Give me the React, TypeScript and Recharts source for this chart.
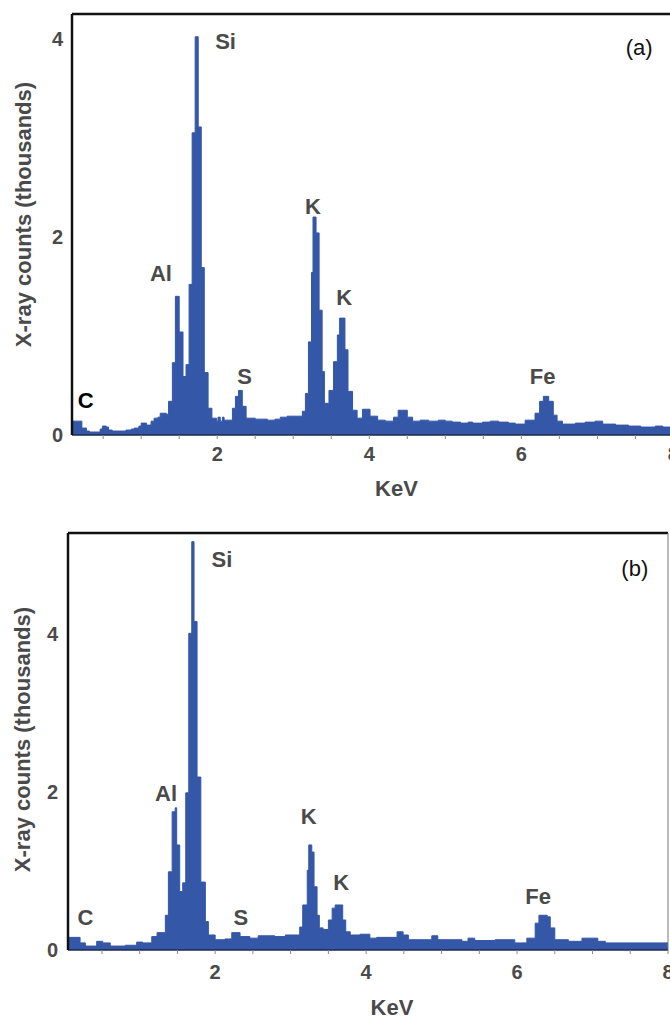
import React from 'react';
import { ComposedChart, Area, XAxis, YAxis, ReferenceDot, ReferenceLine, Label } from 'recharts';

const FONT = '"Liberation Sans", Arial, Helvetica, sans-serif';
const BAR = '#3457a7';
const TEXT = '#4a4a4a';

// Panel (a): step edges (keV) and X-ray counts (thousands)
const energiesA = [
  0.05, 0.22, 0.28, 0.32, 0.46, 0.49, 0.54, 0.57, 0.62, 0.80,
  0.87, 0.91, 0.97, 1.00, 1.07, 1.13, 1.17, 1.22, 1.25, 1.33,
  1.36, 1.41, 1.45, 1.50, 1.55, 1.59, 1.63, 1.67, 1.71, 1.75,
  1.79, 1.83, 1.88, 1.93, 1.99, 2.01, 2.04, 2.07, 2.09, 2.20,
  2.24, 2.28, 2.33, 2.38, 2.50, 2.66, 2.76, 2.83, 2.92, 3.12,
  3.16, 3.20, 3.24, 3.26, 3.30, 3.34, 3.38, 3.41, 3.47, 3.53,
  3.58, 3.61, 3.68, 3.72, 3.78, 3.84, 3.91, 4.01, 4.11, 4.21,
  4.32, 4.38, 4.50, 4.57, 4.67, 4.78, 4.91, 5.00, 5.09, 5.20,
  5.30, 5.36, 5.49, 5.59, 5.70, 5.83, 5.92, 6.05, 6.18, 6.24,
  6.29, 6.36, 6.42, 6.47, 6.54, 6.71, 6.84, 6.97, 7.07, 7.24,
  7.41, 7.57, 7.76, 7.86, 8.20,
];
const countsA = [
  0.14, 0.07, 0.04, 0.03, 0.06, 0.09, 0.08, 0.05, 0.04, 0.05,
  0.06, 0.07, 0.09, 0.12, 0.10, 0.14, 0.17, 0.18, 0.22, 0.21,
  0.34, 0.73, 1.40, 1.04, 0.59, 0.71, 1.52, 3.05, 4.02, 3.11,
  1.69, 0.63, 0.27, 0.17, 0.14, 0.18, 0.14, 0.18, 0.15, 0.27,
  0.39, 0.45, 0.29, 0.17, 0.16, 0.15, 0.16, 0.18, 0.19, 0.24,
  0.42, 0.94, 1.64, 2.20, 2.04, 1.26, 0.64, 0.32, 0.45, 0.74,
  1.01, 1.18, 0.86, 0.44, 0.25, 0.17, 0.26, 0.19, 0.15, 0.14,
  0.18, 0.25, 0.18, 0.14, 0.15, 0.14, 0.15, 0.14, 0.13, 0.12,
  0.13, 0.12, 0.13, 0.14, 0.13, 0.12, 0.11, 0.15, 0.22, 0.34,
  0.39, 0.34, 0.20, 0.14, 0.11, 0.12, 0.13, 0.14, 0.11, 0.10,
  0.09, 0.08, 0.09, 0.08, 0.08,
];

// Panel (b)
const energiesB = [
  0.05, 0.21, 0.28, 0.43, 0.51, 0.61, 0.81, 0.96, 1.04, 1.16,
  1.23, 1.34, 1.38, 1.43, 1.47, 1.49, 1.53, 1.57, 1.61, 1.65,
  1.69, 1.72, 1.76, 1.81, 1.87, 1.91, 2.00, 2.13, 2.22, 2.33,
  2.46, 2.57, 2.79, 2.93, 3.12, 3.16, 3.22, 3.24, 3.28, 3.31,
  3.35, 3.38, 3.43, 3.50, 3.55, 3.59, 3.69, 3.73, 3.79, 3.92,
  4.05, 4.14, 4.41, 4.49, 4.56, 4.87, 4.95, 5.27, 5.35, 5.44,
  5.71, 5.97, 6.13, 6.24, 6.29, 6.40, 6.44, 6.50, 6.68, 6.86,
  7.07, 7.17, 8.05,
];
const countsB = [
  0.16, 0.09, 0.05, 0.11, 0.09, 0.05, 0.06, 0.10, 0.09, 0.17,
  0.22, 0.44, 0.99, 1.75, 1.80, 1.33, 0.74, 0.85, 1.99, 4.01,
  5.17, 4.16, 2.19, 0.86, 0.36, 0.19, 0.13, 0.14, 0.22, 0.17,
  0.15, 0.18, 0.17, 0.19, 0.29, 0.57, 1.01, 1.33, 1.24, 0.80,
  0.44, 0.28, 0.26, 0.38, 0.53, 0.57, 0.38, 0.23, 0.19, 0.20,
  0.15, 0.16, 0.23, 0.19, 0.13, 0.18, 0.13, 0.11, 0.15, 0.12,
  0.13, 0.09, 0.15, 0.34, 0.44, 0.42, 0.28, 0.13, 0.11, 0.15,
  0.11, 0.09, 0.09,
];

const xTicks = [0.5, 1, 1.5, 2, 2.5, 3, 3.5, 4, 4.5, 5, 5.5, 6, 6.5, 7, 7.5, 8];
const xTickLabels = [2, 4, 6, 8];
const yTicks = [0, 2, 4];

const peakNamesA = ['C', 'Al', 'Si', 'S', 'K', 'K', 'Fe'];
const peakEnergiesA = [0.27, 1.26, 2.11, 2.36, 3.26, 3.67, 6.28];
const peakHeightsA = [0.35, 1.63, 3.98, 0.59, 2.31, 1.39, 0.59];
const peakColorsA = ['#000', TEXT, TEXT, TEXT, TEXT, TEXT, TEXT];

const peakNamesB = ['C', 'Al', 'Si', 'S', 'K', 'K', 'Fe'];
const peakEnergiesB = [0.28, 1.35, 2.09, 2.34, 3.24, 3.67, 6.28];
const peakHeightsB = [0.41, 1.99, 4.95, 0.41, 1.70, 0.86, 0.68];
const peakColorsB = [TEXT, TEXT, TEXT, TEXT, TEXT, TEXT, TEXT];

type PanelProps = {
  energies: number[];
  counts: number[];
  xDomain: [number, number];
  yMax: number;
  height: number;
  margin: { top: number; right: number; bottom: number; left: number };
  yAxisWidth: number;
  yTickMargin: number;
  xTickMargin: number;
  yTitleDx: number;
  yTitleDy: number;
  xTitleDx: number;
  xTitleDy: number;
  names: string[];
  pe: number[];
  ph: number[];
  pc: string[];
  tag: string;
  tagE: number;
  tagV: number;
};

function Panel(p: PanelProps) {
  const rows = p.energies.map((e, i) => ({ e, v: p.counts[i] }));
  const yTitle = (props: any) => {
    const vb = props.viewBox || { x: 0, y: 0, width: p.yAxisWidth, height: 400 };
    const cx = vb.x + p.yTitleDx;
    const cy = vb.y + vb.height / 2 + p.yTitleDy;
    return (
      <text
        x={cx}
        y={cy}
        transform={`rotate(-90 ${cx} ${cy})`}
        textAnchor="middle"
        dominantBaseline="central"
        fill={TEXT}
        fontSize={22}
        fontWeight={700}
        fontFamily={FONT}
      >
        X-ray counts (thousands)
      </text>
    );
  };
  const xTitle = (props: any) => {
    const vb = props.viewBox || { x: 0, y: 0, width: 600, height: 60 };
    const cx = vb.x + vb.width / 2 + p.xTitleDx;
    const cy = vb.y + p.xTitleDy;
    return (
      <text
        x={cx}
        y={cy}
        textAnchor="middle"
        dominantBaseline="central"
        fill={TEXT}
        fontSize={22}
        fontWeight={700}
        fontFamily={FONT}
      >
        KeV
      </text>
    );
  };
  return (
    <ComposedChart width={700} height={p.height} data={rows} margin={p.margin}>
      <XAxis
        dataKey="e"
        type="number"
        domain={p.xDomain}
        allowDataOverflow
        ticks={xTicks}
        interval={0}
        tickFormatter={(t: number) => (xTickLabels.includes(t) ? String(t) : '')}
        tickSize={4}
        tickMargin={p.xTickMargin}
        tickLine={{ stroke: '#8a8a8a' }}
        axisLine={{ stroke: '#1c2a4a', strokeWidth: 1.5 }}
        tick={{ fill: TEXT, fontSize: 20, fontWeight: 700, fontFamily: FONT }}
        height={62}
      >
        <Label content={xTitle} />
      </XAxis>
      <YAxis
        type="number"
        domain={[0, p.yMax]}
        allowDataOverflow
        ticks={yTicks}
        width={p.yAxisWidth}
        tickLine={false}
        tickSize={0}
        tickMargin={p.yTickMargin}
        axisLine={{ stroke: '#111', strokeWidth: 2.5 }}
        tick={{ fill: TEXT, fontSize: 20, fontWeight: 700, fontFamily: FONT }}
      >
        <Label content={yTitle} />
      </YAxis>
      <Area
        type="stepAfter"
        dataKey="v"
        stroke={BAR}
        strokeWidth={1}
        fill={BAR}
        fillOpacity={1}
        baseValue={0}
        dot={false}
        activeDot={false}
        isAnimationActive={false}
      />
      <ReferenceLine y={p.yMax} stroke="#111" strokeWidth={2.5} ifOverflow="visible" />
      <ReferenceLine x={p.xDomain[1]} stroke="#7a7a7a" strokeWidth={1} ifOverflow="visible" />
      {p.names.map((n, i) => (
        <ReferenceDot
          key={i}
          x={p.pe[i]}
          y={p.ph[i]}
          r={0}
          fill="none"
          stroke="none"
          label={{
            value: n,
            position: 'center',
            fill: p.pc[i],
            fontSize: 22,
            fontWeight: 700,
            fontFamily: FONT,
          }}
        />
      ))}
      <ReferenceDot
        x={p.tagE}
        y={p.tagV}
        r={0}
        fill="none"
        stroke="none"
        label={{
          value: p.tag,
          position: 'center',
          fill: '#111',
          fontSize: 22,
          fontWeight: 400,
          fontFamily: FONT,
        }}
      />
    </ComposedChart>
  );
}

export default function App() {
  return (
    <div
      style={{
        position: 'absolute',
        left: 0,
        top: 0,
        width: 670,
        height: 1018,
        overflow: 'hidden',
        background: '#fff',
      }}
    >
      <div style={{ position: 'absolute', left: 0, top: 0 }}>
        <Panel
          energies={energiesA}
          counts={countsA}
          xDomain={[0.09, 8.1]}
          yMax={4.25}
          height={500}
          margin={{ top: 14, right: 19, bottom: 3, left: 0 }}
          yAxisWidth={72}
          yTickMargin={9}
          xTickMargin={8}
          yTitleDx={23}
          yTitleDy={-10}
          xTitleDx={20}
          xTitleDy={53}
          names={peakNamesA}
          pe={peakEnergiesA}
          ph={peakHeightsA}
          pc={peakColorsA}
          tag="(a)"
          tagE={7.55}
          tagV={3.91}
        />
      </div>
      <div style={{ position: 'absolute', left: 0, top: 500 }}>
        <Panel
          energies={energiesB}
          counts={countsB}
          xDomain={[0.05, 8.0]}
          yMax={5.28}
          height={518}
          margin={{ top: 33, right: 32, bottom: 6, left: 0 }}
          yAxisWidth={68}
          yTickMargin={10}
          xTickMargin={11}
          yTitleDx={22}
          yTitleDy={-2}
          xTitleDx={24}
          xTitleDy={57}
          names={peakNamesB}
          pe={peakEnergiesB}
          ph={peakHeightsB}
          pc={peakColorsB}
          tag="(b)"
          tagE={7.56}
          tagV={4.84}
        />
      </div>
    </div>
  );
}
